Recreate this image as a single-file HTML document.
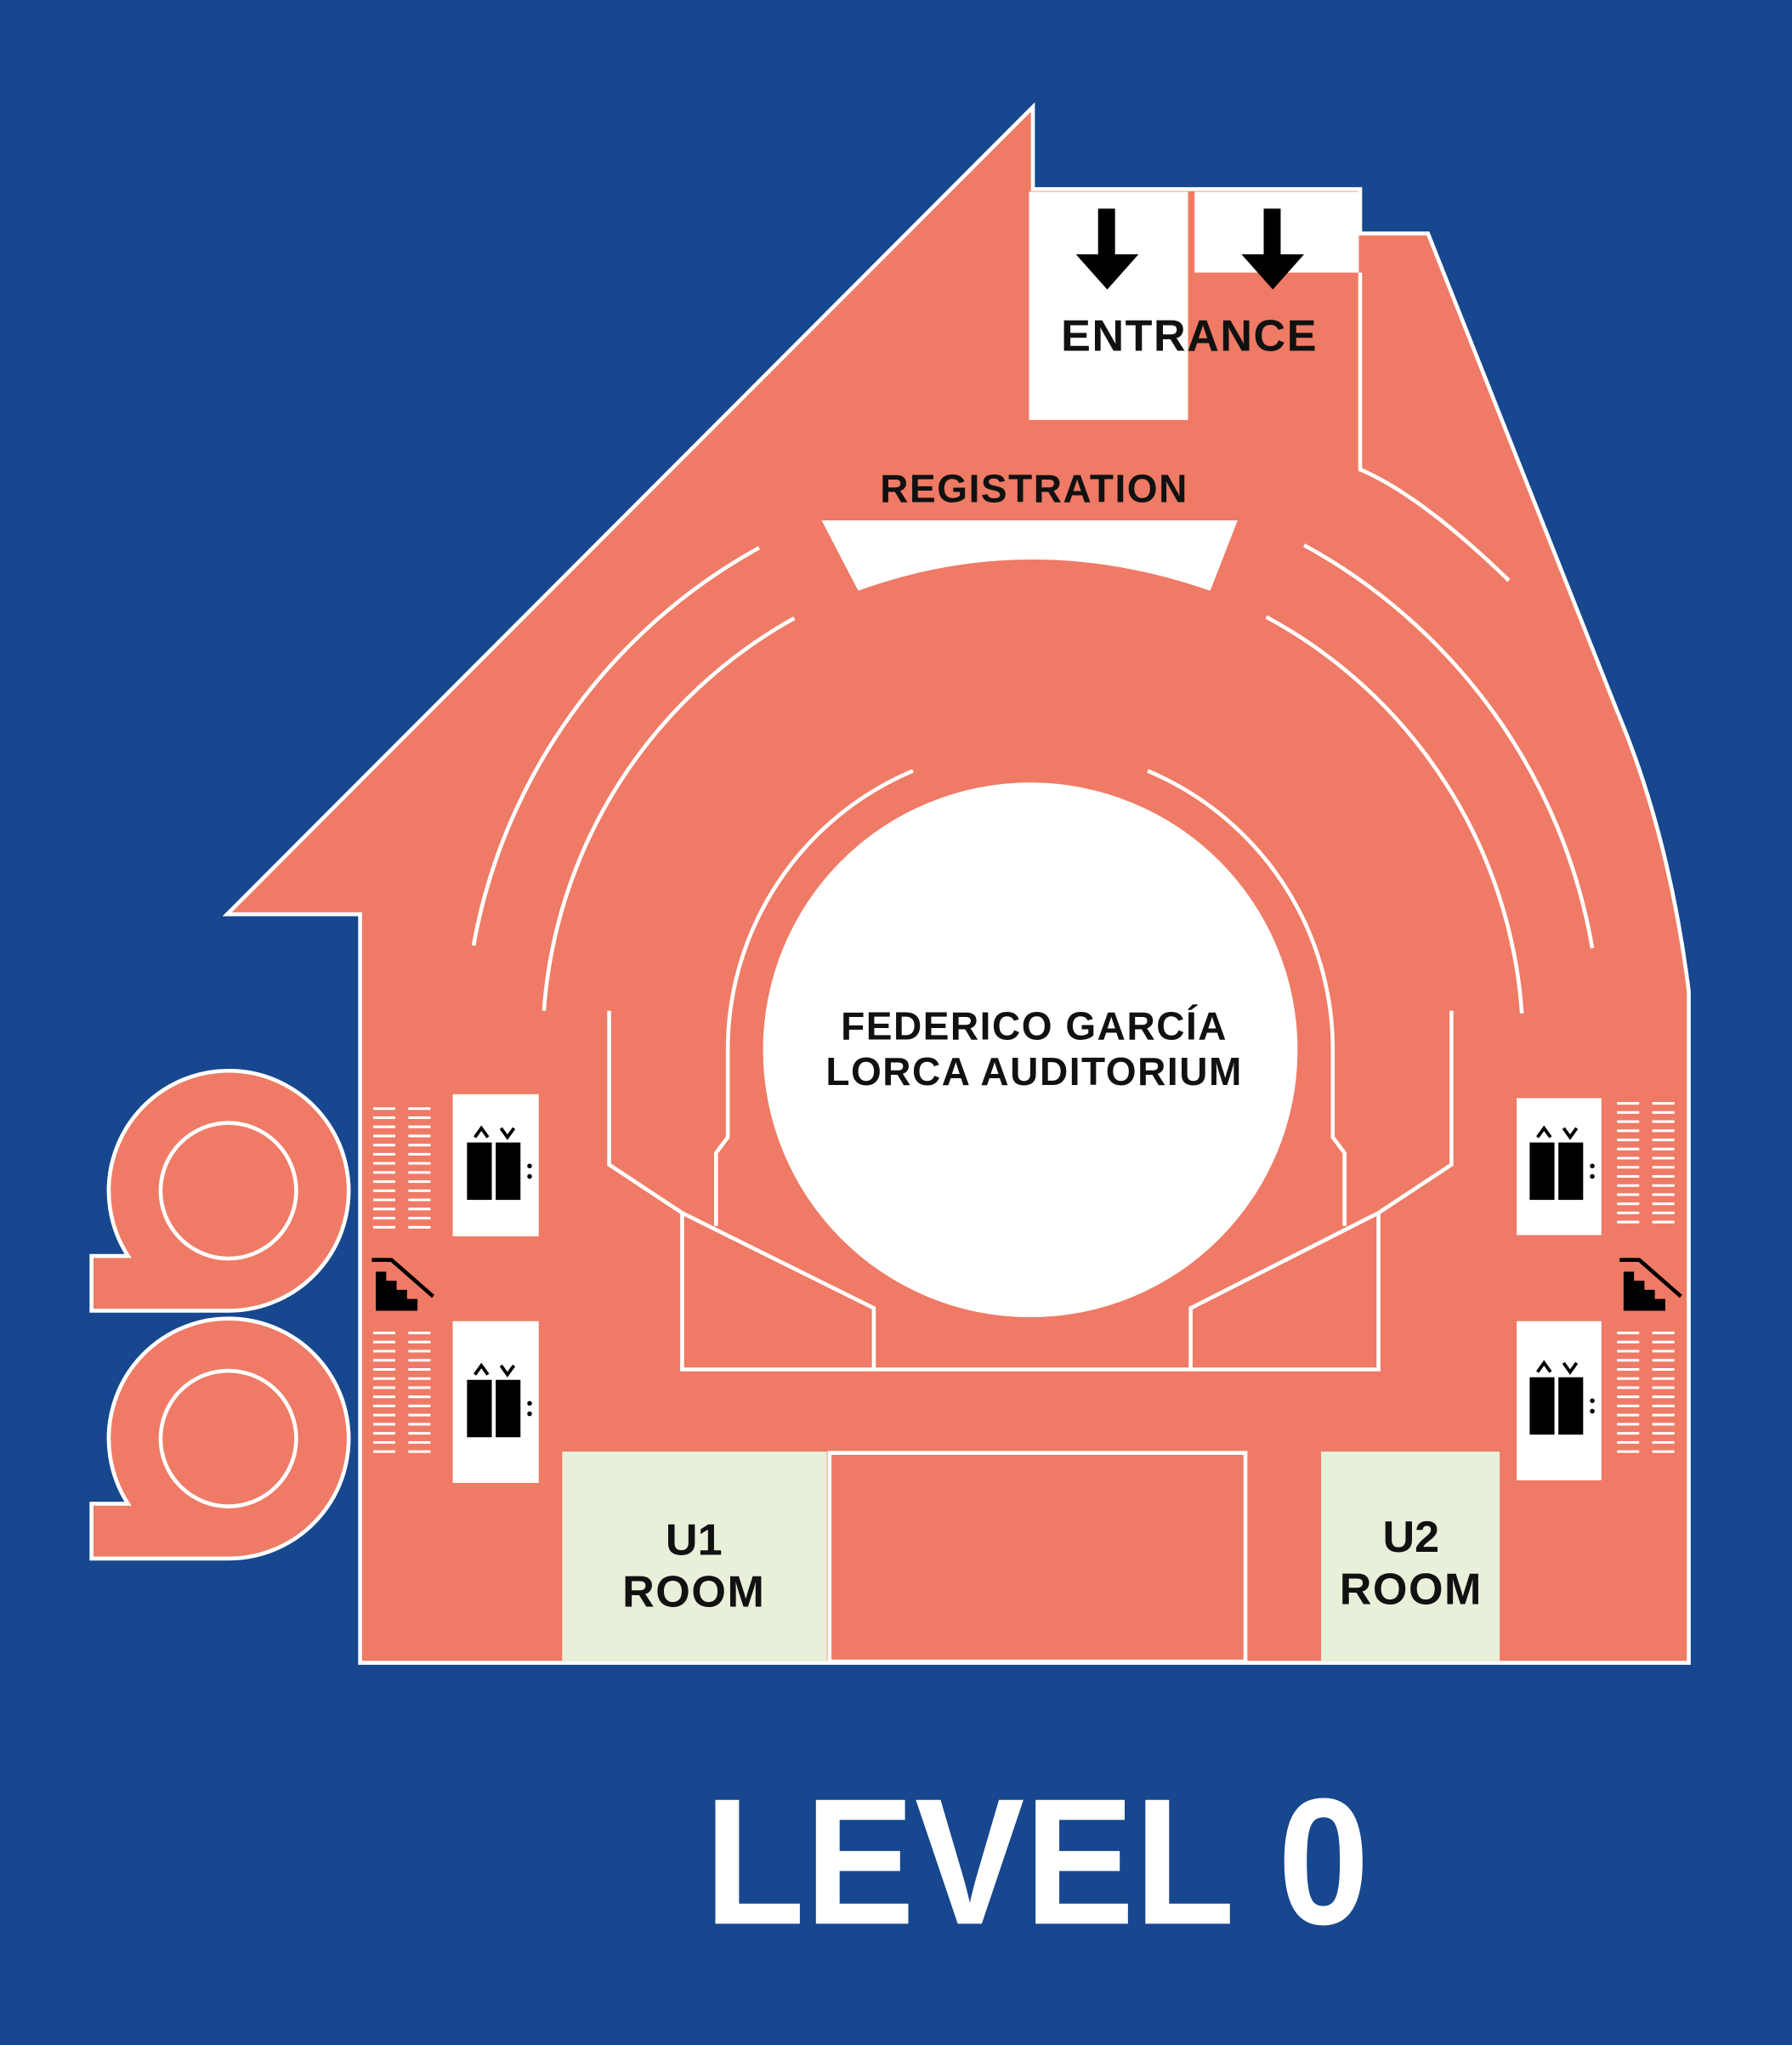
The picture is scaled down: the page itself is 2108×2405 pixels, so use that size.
<!DOCTYPE html>
<html><head><meta charset="utf-8"><style>
html,body{margin:0;padding:0;background:#17478e;}
svg{display:block;}
text{font-family:"Liberation Sans",sans-serif;font-weight:bold;}
</style></head><body>
<svg width="2108" height="2405" viewBox="0 0 1374 1568" xmlns="http://www.w3.org/2000/svg">
<rect width="1374" height="1568" fill="#17478e"/>
<path d="M792,82 L792,145 L1043,145 L1043,179 L1095,179 L1240,545 Q1280,640 1295,760 L1295,1275 L276,1275 L276,701 L174,701 Z" fill="#ef7a65" stroke="#fff" stroke-width="3"/>
<rect x="789" y="147" width="122" height="175" fill="#fff"/>
<rect x="916" y="147" width="126" height="62" fill="#fff"/>
<path d="M1043,209 L1043,360 Q1090,380 1157,445" fill="none" stroke="#fff" stroke-width="3"/>
<path d="M842,160 h13 v35 h18 l-24,27 l-24,-27 h17z" fill="#000"/>
<path d="M969,160 h13 v35 h18 l-24,27 l-24,-27 h17z" fill="#000"/>
<text x="912" y="269" font-size="34" text-anchor="middle" fill="#111" letter-spacing="1">ENTRANCE</text>
<text x="793" y="385" font-size="30" text-anchor="middle" fill="#111" letter-spacing="1">REGISTRATION</text>
<path d="M630,399 L949,399 L928,453 Q790,405 658,453 Z" fill="#fff"/>
<g fill="none" stroke="#fff" stroke-width="3">
<path d="M582,420 A436,436 0 0 0 363,725"/>
<path d="M1000,418 A436,436 0 0 1 1221,727"/>
<path d="M609,474 A375,375 0 0 0 417,775"/>
<path d="M971,473 A375,375 0 0 1 1167,777"/>
<path d="M700,591 A232,232 0 0 0 558,805 L558,872 L549,884 L549,940"/>
<path d="M880,591 A232,232 0 0 1 1022,805 L1022,872 L1031,884 L1031,940"/>
<path d="M467,775 L467,893 L523,930"/>
<path d="M1113,775 L1113,893 L1057,930"/>
<path d="M523,930 L670,1003 L670,1050 M523,930 L523,1050 L1057,1050 L1057,930 L913,1003 L913,1050"/>
</g>
<circle cx="790" cy="805" r="205" fill="#fff"/>
<text x="793" y="797" font-size="30" text-anchor="middle" fill="#111" letter-spacing="1">FEDERICO GARCÍA</text>
<text x="793" y="832" font-size="30" text-anchor="middle" fill="#111" letter-spacing="1">LORCA AUDITORIUM</text>
<rect x="431" y="1113" width="203" height="161" fill="#e8f0da"/>
<rect x="636" y="1114" width="319" height="160" fill="#ef7a65" stroke="#fff" stroke-width="3"/>
<rect x="1013" y="1113" width="137" height="161" fill="#e8f0da"/>
<text x="532" y="1192" font-size="34" text-anchor="middle" fill="#111">U1</text>
<text x="532" y="1232" font-size="34" text-anchor="middle" fill="#111" letter-spacing="1">ROOM</text>
<text x="1082" y="1190" font-size="34" text-anchor="middle" fill="#111">U2</text>
<text x="1082" y="1230" font-size="34" text-anchor="middle" fill="#111" letter-spacing="1">ROOM</text>
<rect x="347" y="839" width="66" height="109" fill="#fff"/>
<rect x="347" y="1013" width="66" height="124" fill="#fff"/>
<rect x="1163" y="842" width="65" height="105" fill="#fff"/>
<rect x="1163" y="1013" width="65" height="122" fill="#fff"/>
<g id="ic">
<rect x="358" y="876" width="19" height="44" fill="#000"/>
<rect x="380" y="876" width="19" height="44" fill="#000"/>
<path d="M364,872 l5,-7 l5,7 M384,865 l5,7 l5,-7" stroke="#000" stroke-width="2.5" fill="none"/>
<circle cx="406" cy="894" r="1.8" fill="#000"/><circle cx="406" cy="902" r="1.8" fill="#000"/>
</g>
<use href="#ic" transform="translate(0,182)"/>
<use href="#ic" transform="translate(815,0)"/>
<use href="#ic" transform="translate(815,180)"/>
<g stroke="#fff" stroke-width="2">
<path id="st" d="M286,850h17M313,850h17M286,857h17M313,857h17M286,864h17M313,864h17M286,871h17M313,871h17M286,878h17M313,878h17M286,885h17M313,885h17M286,892h17M313,892h17M286,899h17M313,899h17M286,906h17M313,906h17M286,913h17M313,913h17M286,920h17M313,920h17M286,927h17M313,927h17M286,934h17M313,934h17M286,941h17M313,941h17"/>
<use href="#st" transform="translate(0,172)"/>
<use href="#st" transform="translate(954,-4)"/>
<use href="#st" transform="translate(954,172)"/>
</g>
<g id="sti">
<path d="M288,1005 L288,975 L296,975 L296,982 L304,982 L304,989 L312,989 L312,996 L320,996 L320,1005 L329,1005 Z" fill="#000"/>
<path d="M285,966 L300,966 L332,994" stroke="#000" stroke-width="3" fill="none"/>
</g>
<use href="#sti" transform="translate(957,0)"/>
<g fill="#ef7a65" stroke="#fff" stroke-width="3">
<path d="M175,1005 A92,92 0 1 0 98,963 L70,963 L70,1005 Z"/>
<circle cx="175" cy="913" r="52"/>
<path d="M175,1195 A92,92 0 1 0 98,1153 L70,1153 L70,1195 Z"/>
<circle cx="175" cy="1103" r="52"/>
</g>
<text x="540" y="1475" font-size="138" fill="#fff" textLength="510" lengthAdjust="spacingAndGlyphs">LEVEL 0</text>
</svg>
</body></html>
